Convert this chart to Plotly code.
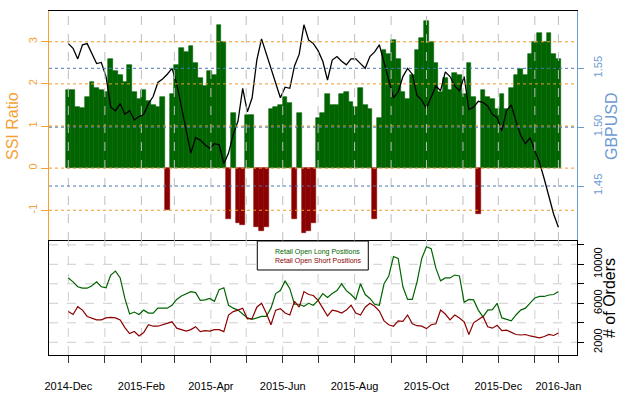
import plotly.graph_objects as go
import pandas as pd

# ---------------- data ----------------
start_date = "2014-12-01"
step_days = 4

ssi_ratio = [
    1.85, 1.85, 1.45, 1.42, 1.70, 2.05, 1.90, 1.85, 1.80, 2.60, 2.30, 2.20,
    2.05, 2.45, 1.80, 1.65, 1.85, 1.60, 1.50, 1.45, 1.70, -1.00, 1.75, 2.45,
    2.85, 2.75, 2.90, 2.50, 2.15, 1.95, 2.30, 2.20, 3.40, 3.00, -1.20, 1.30,
    -1.30, -1.35, 1.25, 1.25, -1.40, -1.50, -1.40, 1.40, 1.45, 1.50, 1.70, 1.55,
    -1.20, 1.30, -1.55, -1.50, -1.30, 1.20, 1.30, 1.75, 1.50, 1.50, 1.75, 1.80,
    1.57, 1.45, 1.90, 1.50, 1.40, -1.20, 1.20, 2.80, 2.70, 3.05, 2.60, 1.80,
    1.65, 2.20, 2.80, 3.10, 3.50, 3.00, 2.50, 1.80, 2.15, 1.85, 2.25, 2.20,
    1.75, 2.50, 1.70, -1.10, 1.85, 1.70, 1.65, 1.40, 1.75, 1.40, 1.90, 2.20,
    2.35, 2.20, 2.70, 3.00, 3.20, 3.00, 3.20, 2.70, 2.60,
]

gbpusd = [
    1.571, 1.567, 1.558, 1.570, 1.571, 1.562, 1.554, 1.555, 1.543, 1.517, 1.514, 1.520,
    1.511, 1.514, 1.506, 1.509, 1.511, 1.520, 1.526, 1.538, 1.541, 1.545, 1.550, 1.537,
    1.517, 1.495, 1.478, 1.491, 1.489, 1.485, 1.482, 1.486, 1.485, 1.469, 1.478, 1.494,
    1.505, 1.533, 1.513, 1.525, 1.557, 1.575, 1.562, 1.549, 1.538, 1.525, 1.534, 1.533,
    1.552, 1.562, 1.587, 1.574, 1.571, 1.565, 1.556, 1.540, 1.557, 1.560, 1.556, 1.553,
    1.558, 1.558, 1.554, 1.550, 1.560, 1.564, 1.570, 1.555, 1.542, 1.525, 1.530, 1.543,
    1.550, 1.545, 1.527, 1.523, 1.516, 1.525, 1.535, 1.531, 1.547, 1.543, 1.535, 1.531,
    1.543, 1.515, 1.517, 1.522, 1.521, 1.518, 1.511, 1.508, 1.497, 1.514, 1.519, 1.505,
    1.493, 1.486, 1.491, 1.480, 1.470, 1.456, 1.442, 1.426, 1.415,
]

long_orders = [
    8600, 8200, 7700, 7550, 7550, 7800, 8200, 7700, 7600, 8900, 9300, 8600,
    6500, 4900, 5100, 4850, 5300, 5000, 5000, 5500, 5500, 5500, 5800, 6400,
    6750, 7000, 7200, 7100, 6300, 6350, 6500, 6200, 7400, 7600, 5800, 5500,
    5300, 4900, 4500, 4350, 4500, 4650, 4650, 5500, 7000, 7300, 8300, 7500,
    5900, 5900, 5700, 6000, 5800, 6300, 7000, 6600, 7000, 7300, 8000, 7300,
    6900, 6400, 8000, 6900, 6500, 5900, 5800, 8000, 8800, 10800, 10600, 7700,
    6400, 6400, 8200, 10600, 11800, 11600, 9600, 8300, 8600, 8600, 8900, 8800,
    6100, 6400, 6350, 5300, 4600, 5300, 5350, 6000, 4500, 4350, 4200, 4800,
    5300, 5500, 6000, 6550, 6700, 6700, 6850, 6900, 7200,
]

short_orders = [
    5150, 4850, 5650, 5300, 4650, 4500, 4300, 4300, 4500, 4550, 4500, 4300,
    3500, 2900, 3100, 2650, 3000, 3800, 3650, 3650, 3800, 3950, 4100, 3450,
    3300, 3150, 3300, 3600, 3100, 3200, 3150, 3300, 3300, 3100, 4800, 5150,
    5300, 5500, 4400, 4450, 5600, 6000, 5000, 3800, 5300, 5450, 5000, 4800,
    6200, 5600, 7200, 6900, 6800, 6300, 5500, 4700, 5300, 5200, 5000, 5300,
    5800, 5000, 4800, 5600, 6000, 5700, 5200, 4200, 3800, 3650, 4200, 4150,
    4800, 3900, 3700, 3650, 3400, 3800, 3900, 5300, 4900, 4300, 4800, 4500,
    4100, 2800, 4000, 4300, 4650, 3600, 3450, 3750, 3200, 3250, 3050, 2800,
    2750, 2800, 2650, 2550, 2450, 2600, 2800, 2700, 2950,
]

month_starts = [
    "2014-12-01", "2015-01-01", "2015-02-01", "2015-03-01", "2015-04-01",
    "2015-05-01", "2015-06-01", "2015-07-01", "2015-08-01", "2015-09-01",
    "2015-10-01", "2015-11-01", "2015-12-01", "2016-01-01",
]
month_labels = [
    "2014-Dec", "", "2015-Feb", "", "2015-Apr", "", "2015-Jun", "",
    "2015-Aug", "", "2015-Oct", "", "2015-Dec", "",
]
end_label = "2016-Jan"

ssi_ticks = [-1, 0, 1, 2, 3]
fx_ticks = [1.45, 1.50, 1.55]
fx_tick_text = ["1.45", "1.50", "1.55"]
order_ticks = [2000, 4000, 6000, 8000, 10000, 12000]
order_tick_text = ["2000", "", "6000", "", "10000", ""]

# ---------------- styling ----------------
dates = pd.date_range(start_date, periods=len(ssi_ratio), freq=f"{step_days}D")
x_ticks = [pd.Timestamp(d) for d in month_starts] + [dates[-1]]
x_tick_text = month_labels + [end_label]

FONT = "Liberation Sans, Arial, sans-serif"
GREEN = "#006400"
RED = "#8B0000"
ORANGE = "#F4A236"
ORANGE_GRID = "#EE9A2A"
BLUE = "#6C9BD2"
BLUE_GRID = "#4A78B4"
GRID = "#BEBEBE"
GRID_LOW = "#CDCDCD"

split = 0.3314
x_range = [pd.Timestamp("2014-11-14 14:00"), pd.Timestamp("2016-02-05 19:00")]

bar_colors = [GREEN if v >= 0 else RED for v in ssi_ratio]

fig = go.Figure()
fig.add_trace(go.Bar(x=dates, y=ssi_ratio,
                     marker=dict(color=bar_colors, line=dict(width=0.6, color=bar_colors)),
                     xaxis="x", yaxis="y", showlegend=False))
fig.add_trace(go.Scatter(x=dates, y=gbpusd, mode="lines", line=dict(color="black", width=1.3),
                         xaxis="x", yaxis="y2", showlegend=False))
fig.add_trace(go.Scatter(x=dates, y=long_orders, mode="lines", line=dict(color=GREEN, width=1.2),
                         xaxis="x2", yaxis="y3", showlegend=False))
fig.add_trace(go.Scatter(x=dates, y=short_orders, mode="lines", line=dict(color=RED, width=1.2),
                         xaxis="x2", yaxis="y3", showlegend=False))

shapes = []
for xv in x_ticks:
    shapes.append(dict(type="line", xref="x", yref="paper", x0=xv, x1=xv, y0=split, y1=1,
                       line=dict(color=GRID, width=1, dash="dash"), layer="above"))
    shapes.append(dict(type="line", xref="x2", yref="paper", x0=xv, x1=xv, y0=0, y1=split,
                       line=dict(color=GRID_LOW, width=1, dash="dash"), layer="below"))
for v in ssi_ticks:
    shapes.append(dict(type="line", xref="paper", yref="y", x0=0, x1=1, y0=v, y1=v,
                       line=dict(color=ORANGE_GRID, width=1, dash="dot"), layer="above"))
for v in fx_ticks:
    shapes.append(dict(type="line", xref="paper", yref="y2", x0=0, x1=1, y0=v, y1=v,
                       line=dict(color=BLUE_GRID, width=1, dash="dot"), layer="above"))
for v in order_ticks:
    shapes.append(dict(type="line", xref="paper", yref="y3", x0=0, x1=1, y0=v, y1=v,
                       line=dict(color=GRID_LOW, width=1, dash="dash"), layer="below"))
shapes.append(dict(type="rect", xref="paper", yref="paper", x0=0.3945, x1=0.6047,
                   y0=0.2471, y1=split, fillcolor="white", line=dict(color="black", width=1),
                   layer="above"))

annotations = [
    dict(text="SSI Ratio", xref="paper", yref="paper", x=0, y=(1 + split) / 2, xshift=-36,
         textangle=-90, showarrow=False, xanchor="center", yanchor="middle",
         font=dict(family=FONT, size=16, color=ORANGE)),
    dict(text="GBPUSD", xref="paper", yref="paper", x=1, y=(1 + split) / 2, xshift=35,
         textangle=-90, showarrow=False, xanchor="center", yanchor="middle",
         font=dict(family=FONT, size=16, color=BLUE)),
    dict(text="# of Orders", xref="paper", yref="paper", x=1, y=split / 2, xshift=33,
         textangle=-90, showarrow=False, xanchor="center", yanchor="middle",
         font=dict(family=FONT, size=16, color="black")),
    dict(text="Retail Open Long Positions", xref="paper", yref="paper", x=0.4235, y=0.3003,
         showarrow=False, xanchor="left", yanchor="middle",
         font=dict(family=FONT, size=7, color=GREEN)),
    dict(text="Retail Open Short Positions", xref="paper", yref="paper", x=0.4235, y=0.2733,
         showarrow=False, xanchor="left", yanchor="middle",
         font=dict(family=FONT, size=7, color=RED)),
]

fig.update_layout(
    width=635, height=399,
    margin=dict(l=49, r=58, t=11, b=44, pad=0, autoexpand=False),
    paper_bgcolor="white", plot_bgcolor="white",
    bargap=0, showlegend=False, hovermode=False,
    font=dict(family=FONT, size=11, color="black"),
    shapes=shapes, annotations=annotations,
    xaxis=dict(domain=[0, 1], anchor="y", range=x_range, type="date", matches="x2",
               side="top", showline=True, linecolor="black", linewidth=1, automargin=False,
               showticklabels=False, ticks="", showgrid=False, zeroline=False),
    yaxis=dict(domain=[split, 1], anchor="x", range=[-1.73, 3.73], side="left",
               tickvals=ssi_ticks, ticktext=[str(v) for v in ssi_ticks], tickangle=-90,
               tickfont=dict(family=FONT, size=11, color=ORANGE), ticks="outside",
               ticklen=7, tickcolor=ORANGE, showline=True, linecolor=ORANGE, linewidth=1,
               showgrid=False, zeroline=False, ticklabelstandoff=0, automargin=False),
    yaxis2=dict(overlaying="y", anchor="x", side="right", range=[1.4033, 1.5987],
                tickvals=fx_ticks, ticktext=fx_tick_text, tickangle=-90,
                tickfont=dict(family=FONT, size=11, color=BLUE), ticks="outside",
                ticklen=6, tickcolor=BLUE, showline=True, linecolor=BLUE, linewidth=1,
                showgrid=False, zeroline=False, ticklabelstandoff=5, automargin=False),
    xaxis2=dict(domain=[0, 1], anchor="y3", range=x_range, type="date",
                tickvals=x_ticks, ticktext=x_tick_text, ticks="outside", ticklen=7,
                tickcolor="#2F3F2F", tickfont=dict(family=FONT, size=11, color="black"),
                showline=True, mirror=True, linecolor="black", linewidth=1,
                showgrid=False, zeroline=False, ticklabelstandoff=14, automargin=False),
    yaxis3=dict(domain=[0, split], anchor="x2", side="right", range=[697, 12390],
                tickvals=order_ticks, ticktext=order_tick_text, tickangle=-90,
                tickfont=dict(family=FONT, size=11, color="black"), ticks="outside",
                ticklen=6, tickcolor="black", showline=True, mirror=True,
                linecolor="black", linewidth=1, showgrid=False, zeroline=False,
                ticklabelstandoff=5, automargin=False),
)

fig.write_html("out.html", config={"displayModeBar": False},
               post_script="document.body.style.margin='0px';")
